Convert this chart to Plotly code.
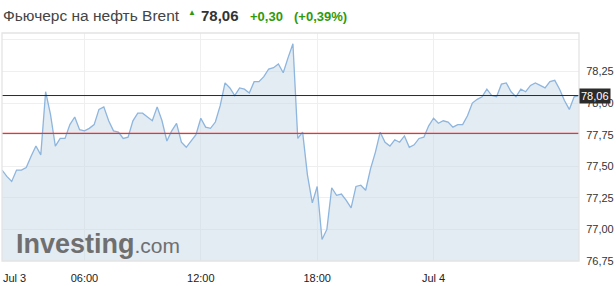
import pandas as pd
import plotly.graph_objects as go

prices = [77.47, 77.42, 77.38, 77.47, 77.47, 77.49, 77.58, 77.66, 77.59, 78.09,
          77.91, 77.66, 77.72, 77.72, 77.83, 77.89, 77.79, 77.78, 77.80, 77.83,
          77.95, 77.97, 77.86, 77.78, 77.77, 77.72, 77.73, 77.86, 77.92, 77.92,
          77.89, 77.86, 77.97, 77.86, 77.70, 77.78, 77.84, 77.69, 77.65, 77.70,
          77.75, 77.88, 77.81, 77.80, 77.85, 77.98, 78.16, 78.12, 78.06, 78.12,
          78.11, 78.08, 78.17, 78.17, 78.21, 78.27, 78.28, 78.31, 78.24, 78.36,
          78.47, 77.72, 77.77, 77.43, 77.21, 77.34, 76.92, 77.00, 77.33, 77.27,
          77.28, 77.23, 77.17, 77.34, 77.35, 77.31, 77.48, 77.61, 77.77, 77.69,
          77.66, 77.71, 77.69, 77.74, 77.65, 77.67, 77.72, 77.73, 77.82, 77.88,
          77.84, 77.86, 77.85, 77.81, 77.83, 77.83, 77.90, 78.00, 78.03, 78.05,
          78.11, 78.06, 78.05, 78.15, 78.16, 78.09, 78.05, 78.11, 78.09, 78.14,
          78.16, 78.14, 78.12, 78.17, 78.18, 78.11, 78.02, 77.95, 78.05, 78.06]
times = pd.date_range("2018-07-03 01:45", periods=len(prices), freq="15min")

last_price = 78.06
prev_close = 77.76
x_tick_vals = ["2018-07-03 06:00", "2018-07-03 12:00", "2018-07-03 18:00", "2018-07-04 00:00"]
x_tick_text = ["06:00", "12:00", "18:00", "Jul 4"]
y_tick_vals = [76.75, 77.00, 77.25, 77.50, 77.75, 78.00, 78.25, 78.50]
y_tick_text = ["76,75", "77,00", "77,25", "77,50", "77,75", "78,00", "78,25", ""]

FONT = "Liberation Sans, Arial, sans-serif"
GREEN = "#2f9a0c"

fig = go.Figure()
fig.add_trace(go.Scatter(
    x=times, y=prices, mode="lines",
    line=dict(color="#8db5dd", width=1.3),
    fill="tozeroy", fillcolor="rgba(200,216,232,0.5)",
    hoverinfo="skip", showlegend=False,
))

fig.add_hline(y=last_price, line=dict(color="#2b2b2b", width=1))
fig.add_hline(y=prev_close, line=dict(color="#ff2a2a", width=1.2))

fig.update_layout(
    width=616, height=286,
    margin=dict(l=2, r=30, t=33, b=24),
    paper_bgcolor="white", plot_bgcolor="white",
    separators=",.",
    font=dict(family=FONT, size=11, color="#333333"),
    xaxis=dict(
        type="date",
        range=[times[0], times[-1]],
        tickvals=x_tick_vals, ticktext=x_tick_text,
        showgrid=True, gridcolor="#efefef", gridwidth=1,
        zeroline=False, showline=False,
        ticks="outside", ticklen=7, tickcolor="rgba(0,0,0,0)",
        tickfont=dict(family=FONT, size=11, color="#222222"),
    ),
    yaxis=dict(
        side="right",
        range=[76.75, 78.555],
        tickvals=y_tick_vals, ticktext=y_tick_text,
        showgrid=True, gridcolor="#efefef", gridwidth=1,
        zeroline=False, showline=False,
        ticks="outside", ticklen=4, tickcolor="rgba(0,0,0,0)",
        tickfont=dict(family=FONT, size=11, color="#333333"),
    ),
)

# plot frame
fig.add_shape(type="rect", xref="paper", yref="paper", x0=0, x1=1, y0=0, y1=1,
              line=dict(color="#e4e4e4", width=1.3), layer="above")

# header texts (paper coords: x = (px-2)/584, y = (262-py)/229)
def px(xp):
    return (xp - 2) / 584.0

def py(yp):
    return (262.0 - yp) / 229.0

fig.add_annotation(x=px(1), y=py(15), xref="paper", yref="paper", xanchor="left", yanchor="middle",
                   text="Фьючерс на нефть Brent", showarrow=False,
                   font=dict(family=FONT, size=15.5, color="#444444"))
fig.add_annotation(x=px(188), y=py(12), xref="paper", yref="paper", xanchor="left", yanchor="middle",
                   text="▲", showarrow=False, font=dict(family=FONT, size=8, color=GREEN))
fig.add_annotation(x=px(201), y=py(15), xref="paper", yref="paper", xanchor="left", yanchor="middle",
                   text="<b>78,06</b>", showarrow=False, font=dict(family=FONT, size=15, color="#333333"))
fig.add_annotation(x=px(251), y=py(16), xref="paper", yref="paper", xanchor="left", yanchor="middle",
                   text="<b>+0,30</b>", showarrow=False, font=dict(family=FONT, size=13, color=GREEN))
fig.add_annotation(x=px(296), y=py(16), xref="paper", yref="paper", xanchor="left", yanchor="middle",
                   text="<b>(+0,39%)</b>", showarrow=False, font=dict(family=FONT, size=13, color=GREEN))

# "Jul 3" first label, clamped at the left edge
fig.add_annotation(x=px(1), y=py(279), xref="paper", yref="paper", xanchor="left", yanchor="middle",
                   text="Jul 3", showarrow=False, font=dict(family=FONT, size=11, color="#222222"))

# current price badge
fig.add_annotation(x=1, y=last_price, xref="paper", yref="y", xanchor="left", yanchor="middle",
                   text="78,06", showarrow=False, bgcolor="#2b2b2b", borderpad=1,
                   font=dict(family=FONT, size=11, color="white"))

# watermark
fig.add_annotation(x=px(14), y=py(245), xref="paper", yref="paper", xanchor="left", yanchor="middle",
                   text="<b>Investing</b><span style='font-size:21px'>.com</span>", showarrow=False,
                   font=dict(family=FONT, size=27, color="#6f6f6f"))

fig.write_html("out.html")
